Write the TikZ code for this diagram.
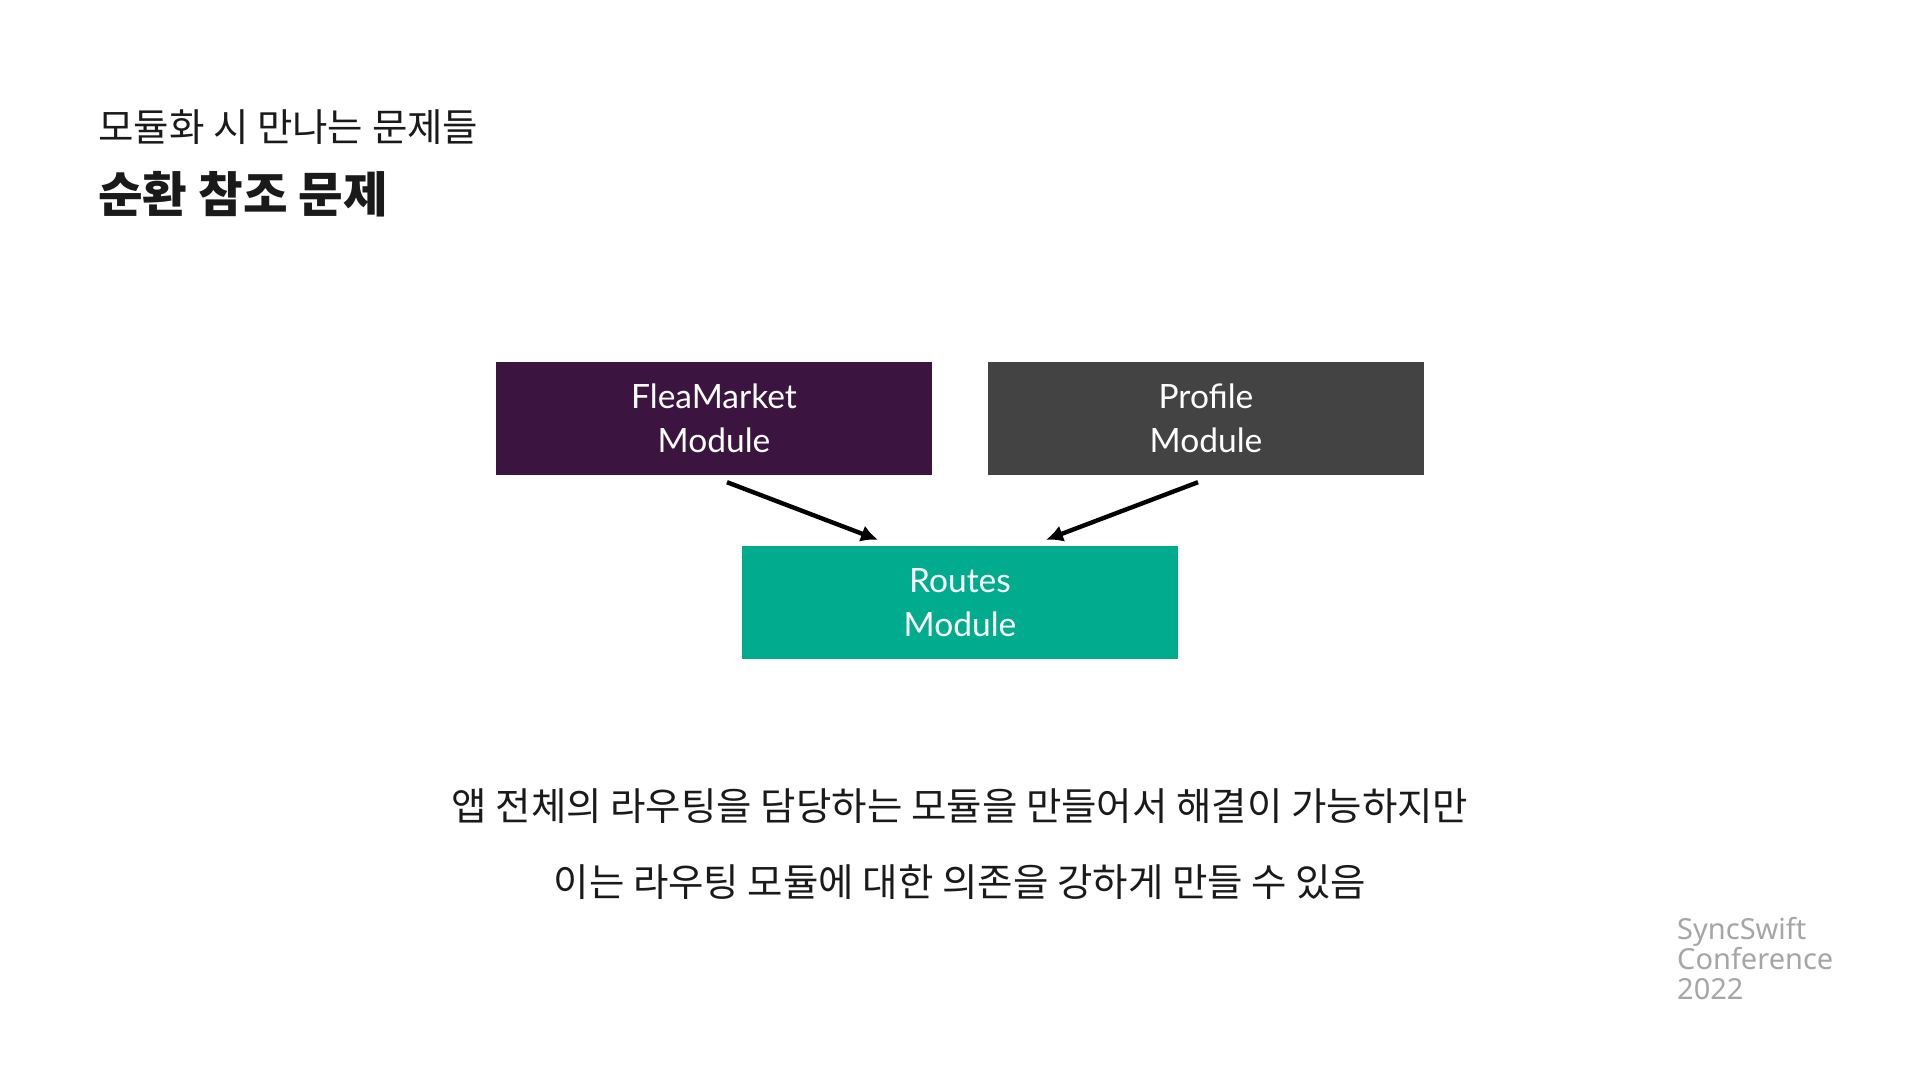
\documentclass[tikz,border=0pt]{standalone}
\usepackage{fontspec}
\usetikzlibrary{arrows.meta,calc}
\newfontfamily\kr{Noto Sans CJK KR}
\newfontfamily\boxfont{Lato}
\newfontfamily\logofont{Noto Sans}
\definecolor{fmpurple}{HTML}{3B1540}
\definecolor{profgray}{HTML}{434343}
\definecolor{routegreen}{HTML}{00AB8E}
\definecolor{txtdark}{HTML}{1A1A1A}
\definecolor{logogray}{HTML}{A6A6A6}
\tikzset{
  modbox/.style={minimum width=436pt, minimum height=113pt, inner sep=0pt,
    text=white, align=center, font=\boxfont\fontsize{33.5}{44}\selectfont},
  dep/.style={line width=4.4pt, -{Latex[length=17pt,width=17pt]}, black},
  krtext/.style={text=txtdark, inner sep=0pt},
}
\begin{document}
\begin{tikzpicture}[x=1pt,y=-1pt]
\useasboundingbox (0,0) rectangle (1920,1080);
\fill[white] (0,0) rectangle (1920,1080);
% titles
\node[krtext, anchor=west, font=\kr\fontsize{38.5}{46}\selectfont] (sub) at (98,127) {모듈화 시 만나는 문제들};
\node[krtext, anchor=west, font=\kr\bfseries\fontsize{48.5}{58}\selectfont] (title) at (98,194) {순환 참조 문제};
% boxes
\node[modbox, fill=fmpurple] (fm) at (714,418.5) {FleaMarket\\Module};
\node[modbox, fill=profgray] (pf) at (1206,418.5) {Profile\\Module};
\node[modbox, fill=routegreen] (rt) at (960,602.5) {Routes\\Module};
% connector endpoints
\coordinate (fmS) at ($(fm.south)+(13,7)$);
\coordinate (rtL) at ($(rt.north)+(-82,-6)$);
\coordinate (pfS) at ($(pf.south)+(-8,7)$);
\coordinate (rtR) at ($(rt.north)+(86,-6)$);
\draw[dep] (fmS) -- (rtL);
\draw[dep] (pfS) -- (rtR);
% bottom text
\node[krtext, font=\kr\fontsize{38.5}{46}\selectfont] (l1) at (960,806) {앱 전체의 라우팅을 담당하는 모듈을 만들어서 해결이 가능하지만};
\node[krtext, font=\kr\fontsize{38.5}{46}\selectfont] (l2) at (960,882) {이는 라우팅 모듈에 대한 의존을 강하게 만들 수 있음};
% logo
\node[anchor=north west, inner sep=0pt, align=left, text=logogray,
  font=\logofont\fontsize{29}{30}\selectfont] (logo) at (1677,917) {SyncSwift\\Conference\\2022};
\end{tikzpicture}
\end{document}
